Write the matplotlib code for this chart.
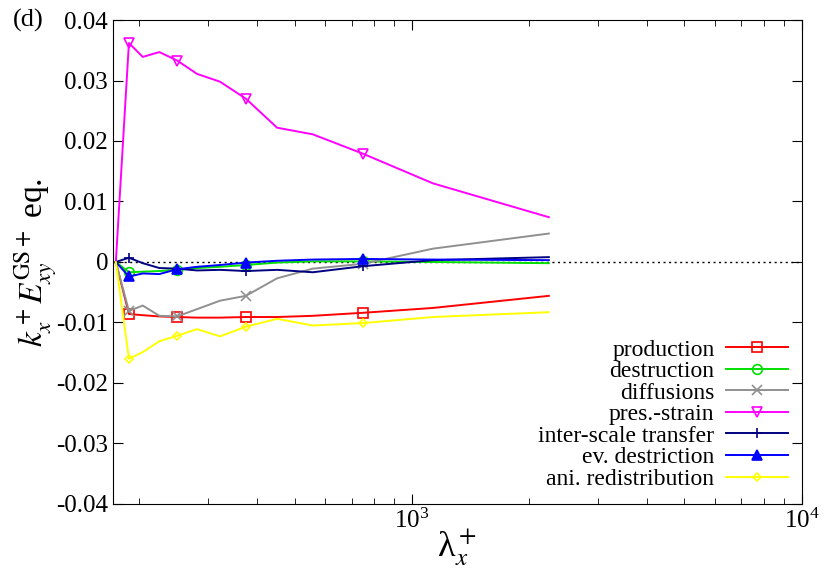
import matplotlib
matplotlib.use("Agg")
import matplotlib.pyplot as plt
from matplotlib.ticker import FuncFormatter, LogLocator, NullFormatter

plt.rcParams["font.family"] = "serif"
plt.rcParams["font.serif"] = ["Liberation Serif"]
plt.rcParams["mathtext.fontset"] = "stix"

lam = [174, 188, 204, 225, 250, 281, 322, 375, 451, 557, 749, 1132, 2245]

production = [0, -0.0086, -0.0088, -0.0090, -0.0091, -0.0092, -0.0092, -0.0091, -0.0091, -0.0089, -0.0084, -0.0076, -0.0056]
destruction = [0, -0.0017, -0.0016, -0.0015, -0.0013, -0.0010, -0.0008, -0.0005, -0.0001, 0.0001, 0.0001, 0.0, -0.0002]
diffusions = [0, -0.0081, -0.0072, -0.0089, -0.0090, -0.0078, -0.0064, -0.0056, -0.0027, -0.0011, -0.0003, 0.0022, 0.0047]
pres_strain = [0, 0.0362, 0.0339, 0.0347, 0.0333, 0.0311, 0.0298, 0.0270, 0.0222, 0.0211, 0.0179, 0.0130, 0.0074]
inter_scale = [0, 0.0007, -0.0002, -0.0010, -0.0011, -0.0014, -0.0013, -0.0015, -0.0013, -0.0017, -0.0007, 0.0003, 0.0008]
ev_destr = [0, -0.0024, -0.0019, -0.0020, -0.0012, -0.0008, -0.0005, -0.0001, 0.0002, 0.0004, 0.0005, 0.0004, 0.0003]
ani_redist = [0, -0.0160, -0.0149, -0.0131, -0.0122, -0.0111, -0.0123, -0.0107, -0.0094, -0.0105, -0.0101, -0.0091, -0.0083]

series = [
    ("production", production, "#ff0000", "s"),
    ("destruction", destruction, "#00e000", "o"),
    ("diffusions", diffusions, "#909090", "x"),
    ("pres.-strain", pres_strain, "#ff00ff", "v"),
    ("inter-scale transfer", inter_scale, "#000080", "+"),
    ("ev. destriction", ev_destr, "#0000ff", "^"),
    ("ani. redistribution", ani_redist, "#ffff00", "D"),
]

fig = plt.figure(figsize=(8.3, 5.72), dpi=100)
ax = fig.add_axes([0.136, 0.119, 0.830, 0.846])

ax.axhline(0, color="black", lw=1, ls=(0, (1.5, 2.5)))
for label, vals, color, mk in series:
    filled = mk in ("^", "x", "+")
    ax.plot(lam, vals, color=color, lw=1.4, marker=mk, markevery=[1, 4, 7, 10],
            markersize=7 if mk != "D" else 4.5,
            markerfacecolor=color if filled else "none",
            markeredgecolor=color, markeredgewidth=1.2, label=label)

ax.set_xscale("log")
ax.set_xlim(171, 1e4)
ax.set_ylim(-0.04, 0.04)
ax.set_yticks([-0.04, -0.03, -0.02, -0.01, 0, 0.01, 0.02, 0.03, 0.04])
ax.yaxis.set_major_formatter(FuncFormatter(lambda v, p: "0" if abs(v) < 1e-9 else f"{v:.2f}"))
ax.xaxis.set_major_locator(LogLocator(base=10))
ax.xaxis.set_minor_locator(LogLocator(base=10, subs=range(2, 10)))
ax.xaxis.set_minor_formatter(NullFormatter())
ax.tick_params(which="both", direction="in", top=True, right=True, labelsize=18)
ax.tick_params(which="major", length=7)
ax.tick_params(which="minor", length=4)
for t in ax.get_yticklabels():
    t.set_fontfamily("Liberation Serif")

ax.set_xlabel("λ$_x^+$", fontsize=26, labelpad=-4)
ax.set_ylabel(r"$k_x^+ E_{xy}^{\rm GS+}$ eq.", fontsize=24, labelpad=-2)
fig.text(0.016, 0.985, "(d)", fontsize=19, va="top")

ax.legend(loc="lower right", markerfirst=False, frameon=False, fontsize=17,
          handlelength=2.6, labelspacing=0.0, borderaxespad=0.2,
          handletextpad=0.5)

fig.savefig("out.png", dpi=100)
